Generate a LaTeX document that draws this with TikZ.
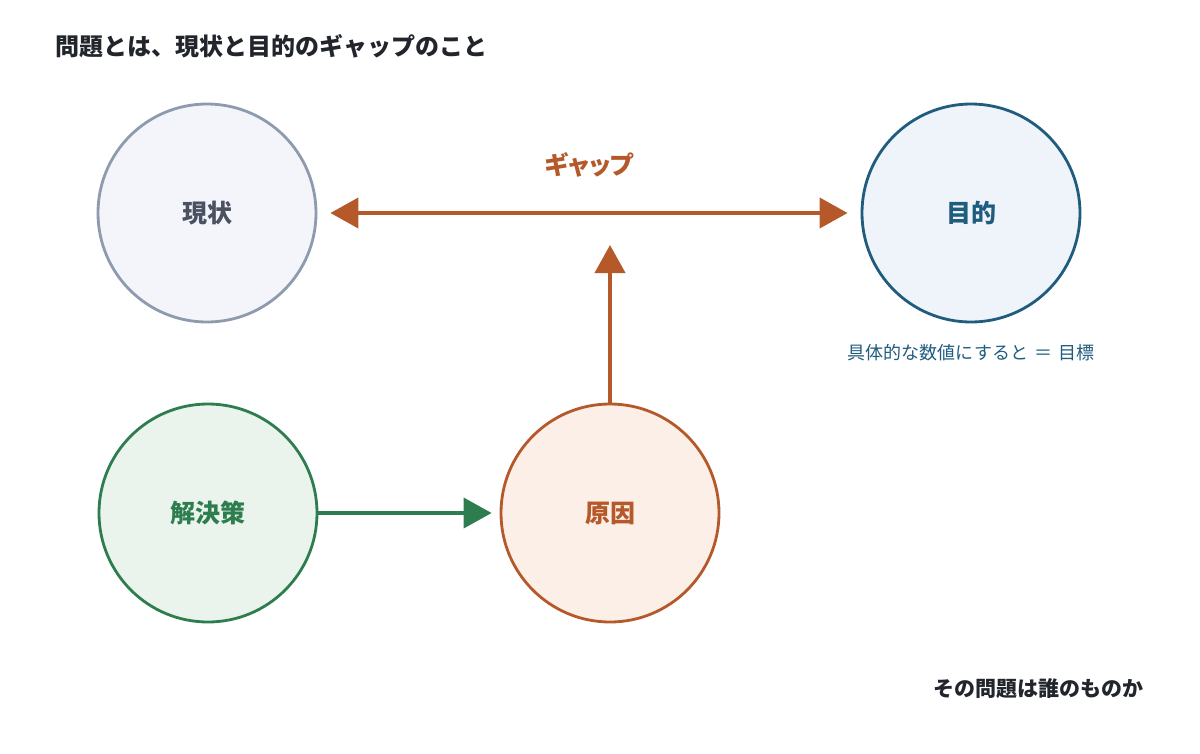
\documentclass[tikz,border=0pt]{standalone}
\usepackage{fontspec}
\setmainfont{Noto Sans CJK JP}
\newfontfamily\jp{Noto Sans CJK JP}
\newfontfamily\jpp[RawFeature=+palt]{Noto Sans CJK JP}
\usetikzlibrary{arrows.meta}
\definecolor{titlec}{HTML}{22262C}
\definecolor{gstroke}{HTML}{8E9AAD}
\definecolor{gfill}{HTML}{F3F5FA}
\definecolor{gtext}{HTML}{4A5160}
\definecolor{bstroke}{HTML}{1F5C7E}
\definecolor{bfill}{HTML}{EEF4F9}
\definecolor{grstroke}{HTML}{2E7D4F}
\definecolor{grfill}{HTML}{EAF4EC}
\definecolor{ostroke}{HTML}{B5582A}
\definecolor{ofill}{HTML}{FBEFE7}
\tikzset{
  circ/.style={circle, minimum size=218pt, inner sep=0pt, line width=2.8pt, font=\jp\bfseries\fontsize{25}{30}\selectfont},
  conn/.style={line width=4pt, -{Triangle[length=28pt,width=30pt]}},
  dconn/.style={line width=4pt, {Triangle[length=28pt,width=30pt]}-{Triangle[length=28pt,width=30pt]}}
}
\begin{document}
\begin{tikzpicture}[x=1pt,y=-1pt]
\useasboundingbox[fill=white] (0,0) rectangle (1200,753);
\node[anchor=west, text=titlec, font=\jp\bfseries\fontsize{24}{28}\selectfont] (title) at (52,46) {問題とは、現状と目的のギャップのこと};
\node[circ, draw=gstroke, fill=gfill, text=gtext] (genjo) at (207,213) {現状};
\node[circ, draw=bstroke, fill=bfill, text=bstroke] (mokuteki) at (971,213) {目的};
\node[circ, draw=grstroke, fill=grfill, text=grstroke] (kaiketsu) at (208,513) {解決策};
\node[circ, draw=ostroke, fill=ofill, text=ostroke] (genin) at (610,513) {原因};
\node[text=ostroke, font=\jpp\bfseries\fontsize{25}{30}\selectfont] (gap) at (589,165) {ギャップ};
\node[text=bstroke, font=\jp\fontsize{18}{22}\selectfont] (note) at (971,353) {具体的な数値にすると\hspace{6pt}＝\hspace{6pt}目標};
\node[anchor=east, text=titlec, font=\jp\bfseries\fontsize{21}{25}\selectfont] (owner) at (1147,689) {その問題は誰のものか};
\coordinate (gaptip) at (610,245);
\draw[dconn, draw=ostroke, fill=ostroke, shorten <=13pt, shorten >=13pt] (genjo.east) -- (mokuteki.west);
\draw[conn, draw=ostroke, fill=ostroke] (genin.north) -- (gaptip);
\draw[conn, draw=grstroke, fill=grstroke, shorten >=8pt] (kaiketsu.east) -- (genin.west);
\end{tikzpicture}
\end{document}
